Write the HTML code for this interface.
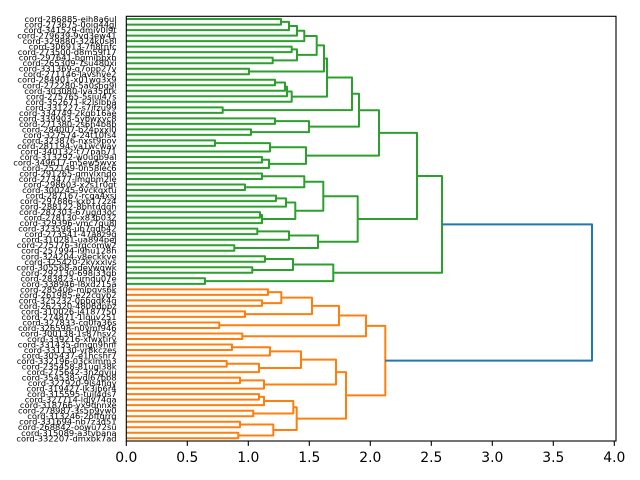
<!DOCTYPE html>
<html>
<head>
<meta charset="utf-8">
<style>
html,body{margin:0;padding:0;background:#fff;}
svg{display:block;}
.lb{font-family:"DejaVu Sans","Liberation Sans",sans-serif;font-size:8.33px;fill:#000;}
.tk{font-family:"DejaVu Sans","Liberation Sans",sans-serif;font-size:13.9px;fill:#000;}
</style>
</head>
<body>
<svg width="640" height="480" viewBox="0 0 640 480" xmlns="http://www.w3.org/2000/svg">
<rect x="0" y="0" width="640" height="480" fill="#fff"/>
<g fill="none" stroke="#2ca02c" stroke-width="2" stroke-linejoin="round">
<path d="M126.3 19.06 H281 V24.58 H126.3"/>
<path d="M281 21.82 H289 V30.09 H126.3"/>
<path d="M289 25.96 H297 V35.61 H126.3"/>
<path d="M297 30.78 H304.3 V41.12 H126.3"/>
<path d="M126.3 46.64 H291.7 V52.16 H126.3"/>
<path d="M126.3 57.67 H272.7 V63.19 H126.3"/>
<path d="M291.7 49.40 H297 V60.43 H272.7"/>
<path d="M304.3 35.95 H316.7 V54.92 H297"/>
<path d="M126.3 68.70 H249 V74.22 H126.3"/>
<path d="M316.7 45.43 H324 V71.46 H249"/>
<path d="M126.3 79.74 H275 V85.25 H126.3"/>
<path d="M275 82.50 H285 V90.77 H126.3"/>
<path d="M285 86.63 H287 V96.28 H126.3"/>
<path d="M287 91.46 H291.7 V101.80 H126.3"/>
<path d="M324 58.45 H327 V96.63 H291.7"/>
<path d="M126.3 107.32 H222.7 V112.83 H126.3"/>
<path d="M327 77.54 H352 V110.07 H222.7"/>
<path d="M126.3 118.35 H275 V123.86 H126.3"/>
<path d="M126.3 129.38 H251 V134.90 H126.3"/>
<path d="M275 121.11 H309 V132.14 H251"/>
<path d="M352 93.81 H359 V126.62 H309"/>
<path d="M126.3 140.41 H215 V145.93 H126.3"/>
<path d="M215 143.17 H270 V151.44 H126.3"/>
<path d="M126.3 156.96 H262 V162.48 H126.3"/>
<path d="M262 159.72 H269 V167.99 H126.3"/>
<path d="M270 147.31 H306 V163.85 H269"/>
<path d="M359 110.22 H379 V155.58 H306"/>
<path d="M126.3 173.51 H262 V179.02 H126.3"/>
<path d="M126.3 184.54 H245 V190.06 H126.3"/>
<path d="M262 176.27 H304.3 V187.30 H245"/>
<path d="M126.3 195.57 H276 V201.09 H126.3"/>
<path d="M276 198.33 H286 V206.60 H126.3"/>
<path d="M126.3 212.12 H260 V217.64 H126.3"/>
<path d="M260 214.88 H262 V223.15 H126.3"/>
<path d="M286 202.47 H295.3 V219.01 H262"/>
<path d="M304.3 181.78 H323.3 V210.74 H295.3"/>
<path d="M126.3 228.67 H257.3 V234.18 H126.3"/>
<path d="M257.3 231.42 H289 V239.70 H126.3"/>
<path d="M126.3 245.22 H234.3 V250.73 H126.3"/>
<path d="M289 235.56 H318 V247.97 H234.3"/>
<path d="M323.3 196.26 H357.7 V241.77 H318"/>
<path d="M379 132.90 H417 V219.01 H357.7"/>
<path d="M126.3 256.25 H265 V261.76 H126.3"/>
<path d="M126.3 267.28 H252.3 V272.80 H126.3"/>
<path d="M265 259.0 H293 V270.04 H252.3"/>
<path d="M126.3 278.31 H205 V283.83 H126.3"/>
<path d="M293 264.52 H333.3 V281.07 H205"/>
<path d="M417 175.96 H442 V272.80 H333.3"/>
</g>
<g fill="none" stroke="#ff7f0e" stroke-width="2" stroke-linejoin="round">
<path d="M126.3 289.34 H268 V294.86 H126.3"/>
<path d="M126.3 300.38 H262 V305.89 H126.3"/>
<path d="M268 292.10 H281.3 V303.14 H262"/>
<path d="M126.3 311.41 H245 V316.92 H126.3"/>
<path d="M281.3 297.62 H312 V314.17 H245"/>
<path d="M126.3 322.44 H219.3 V327.96 H126.3"/>
<path d="M312 305.89 H339 V325.20 H219.3"/>
<path d="M126.3 333.47 H242.3 V338.99 H126.3"/>
<path d="M339 315.55 H366 V336.23 H242.3"/>
<path d="M126.3 344.50 H232 V350.02 H126.3"/>
<path d="M232 347.26 H270 V355.54 H126.3"/>
<path d="M126.3 361.05 H226.7 V366.57 H126.3"/>
<path d="M226.7 363.81 H259 V372.08 H126.3"/>
<path d="M270 351.40 H301 V367.95 H259"/>
<path d="M126.3 377.60 H240 V383.12 H126.3"/>
<path d="M240 380.36 H264 V388.63 H126.3"/>
<path d="M301 359.67 H336 V384.49 H264"/>
<path d="M126.3 394.15 H259 V399.66 H126.3"/>
<path d="M259 396.91 H264 V405.18 H126.3"/>
<path d="M126.3 410.70 H253.3 V416.21 H126.3"/>
<path d="M264 401.04 H293.3 V413.45 H253.3"/>
<path d="M126.3 421.73 H240 V427.24 H126.3"/>
<path d="M126.3 432.76 H238.3 V438.28 H126.3"/>
<path d="M240 424.49 H273.3 V435.52 H238.3"/>
<path d="M293.3 407.25 H296.7 V430.0 H273.3"/>
<path d="M336 372.08 H346 V418.63 H296.7"/>
<path d="M366 325.89 H385.3 V395.35 H346"/>
</g>
<path d="M442 224.38 H592 V360.62 H385.3" fill="none" stroke="#1f77b4" stroke-width="2" stroke-linejoin="round"/>
<rect x="126.3" y="16.3" width="489.7" height="424.7" fill="none" stroke="#000" stroke-width="1.1"/>
<g stroke="#000" stroke-width="1.1">
<line x1="126.3" y1="441" x2="126.3" y2="445.9"/>
<line x1="187.3" y1="441" x2="187.3" y2="445.9"/>
<line x1="248.3" y1="441" x2="248.3" y2="445.9"/>
<line x1="309.3" y1="441" x2="309.3" y2="445.9"/>
<line x1="370.3" y1="441" x2="370.3" y2="445.9"/>
<line x1="431.3" y1="441" x2="431.3" y2="445.9"/>
<line x1="492.3" y1="441" x2="492.3" y2="445.9"/>
<line x1="553.3" y1="441" x2="553.3" y2="445.9"/>
<line x1="614.3" y1="441" x2="614.3" y2="445.9"/>
</g>
<g class="tk" text-anchor="middle">
<text x="126.3" y="462">0.0</text>
<text x="187.3" y="462">0.5</text>
<text x="248.3" y="462">1.0</text>
<text x="309.3" y="462">1.5</text>
<text x="370.3" y="462">2.0</text>
<text x="431.3" y="462">2.5</text>
<text x="492.3" y="462">3.0</text>
<text x="553.3" y="462">3.5</text>
<text x="614.3" y="462">4.0</text>
</g>
<g class="lb" text-anchor="end">
<text x="116.6" y="22.06">cord-286885-eih8a6ul</text>
<text x="116.6" y="27.58">cord-273675-0oiq44gl</text>
<text x="116.6" y="33.09">cord-341529-dmiv0l9t</text>
<text x="116.6" y="38.61">cord-279639-9vd3ew41</text>
<text x="116.6" y="44.12">cord-329880-324k0s8l</text>
<text x="116.6" y="49.64">cord-306913-7fi8tnfc</text>
<text x="116.6" y="55.16">cord-273500-d8m59f17</text>
<text x="116.6" y="60.67">cord-297641-bgmibbxb</text>
<text x="116.6" y="66.19">cord-265309-7su480xi</text>
<text x="116.6" y="71.70">cord-331369-q7opp27v</text>
<text x="116.6" y="77.22">cord-271146-lavshve2</text>
<text x="116.6" y="82.74">cord-284901-x01wg3x9</text>
<text x="116.6" y="88.25">cord-272280-5a0sng9l</text>
<text x="116.6" y="93.77">cord-303080-lva35ptk</text>
<text x="116.6" y="99.28">cord-275765-5siul47s</text>
<text x="116.6" y="104.80">cord-352671-k2lslbba</text>
<text x="116.6" y="110.32">cord-331227-s7ifzu99</text>
<text x="116.6" y="115.83">cord-334749-2kgb16ae</text>
<text x="116.6" y="121.35">cord-339903-5ybwxyc8</text>
<text x="116.6" y="126.86">cord-271380-2s6h4b8b</text>
<text x="116.6" y="132.38">cord-284007-b24pxxl0</text>
<text x="116.6" y="137.90">cord-327574-24t10fs4</text>
<text x="116.6" y="143.41">cord-323876-nxst9pov</text>
<text x="116.6" y="148.93">cord-281194-ya1wcwav</text>
<text x="116.6" y="154.44">cord-340132-t77pab71</text>
<text x="116.6" y="159.96">cord-313292-w0ugb9al</text>
<text x="116.6" y="165.48">cord-349617-m5ew5wvx</text>
<text x="116.6" y="170.99">cord-252149-0n58lec6</text>
<text x="116.6" y="176.51">cord-291265-qmvlxndo</text>
<text x="116.6" y="182.02">cord-273477-lmqbm2le</text>
<text x="116.6" y="187.54">cord-298603-x2s1r0gt</text>
<text x="116.6" y="193.06">cord-300245-9vckqxtu</text>
<text x="116.6" y="198.57">cord-287167-rcga4xsj</text>
<text x="116.6" y="204.09">cord-297886-kxb172z4</text>
<text x="116.6" y="209.60">cord-288122-8bhtddqh</text>
<text x="116.6" y="215.12">cord-287303-67ugd3oc</text>
<text x="116.6" y="220.64">cord-278130-x83b032</text>
<text x="116.6" y="226.15">cord-329396-vmc7qu8l</text>
<text x="116.6" y="231.67">cord-323598-ub7qdb42</text>
<text x="116.6" y="237.18">cord-273541-47a8z9g</text>
<text x="116.6" y="242.70">cord-310281-ua894pej</text>
<text x="116.6" y="248.22">cord-275776-3rqcomw2</text>
<text x="116.6" y="253.73">cord-257994-i9hu128h</text>
<text x="116.6" y="259.25">cord-324204-y8eckkve</text>
<text x="116.6" y="264.76">cord-325420-2kyxxlvs</text>
<text x="116.6" y="270.28">cord-305568-adevwqwk</text>
<text x="116.6" y="275.80">cord-292130-698j33qb</text>
<text x="116.6" y="281.31">cord-283823-urnqu07e</text>
<text x="116.6" y="286.83">cord-338946-l8xd215a</text>
<text x="116.6" y="292.34">cord-285406-mlpqvs6k</text>
<text x="116.6" y="297.86">cord-261985-e22cqyb2</text>
<text x="116.6" y="303.38">cord-325232-0pbqqk4g</text>
<text x="116.6" y="308.89">cord-262320-4806dpbz</text>
<text x="116.6" y="314.41">cord-310026-j4187750</text>
<text x="116.6" y="319.92">cord-274871-1lquv251</text>
<text x="116.6" y="325.44">cord-327833-cq0fa36s</text>
<text x="116.6" y="330.96">cord-326598-n0ymf946</text>
<text x="116.6" y="336.47">cord-300138-1s87hsv2</text>
<text x="116.6" y="341.99">cord-339216-xfwxtiry</text>
<text x="116.6" y="347.50">cord-331435-dmgn9hnf</text>
<text x="116.6" y="353.02">cord-331130-yr8kczes</text>
<text x="116.6" y="358.54">cord-305437-e1hcshr7</text>
<text x="116.6" y="364.05">cord-332196-03cklmm3</text>
<text x="116.6" y="369.57">cord-235458-81ugl38k</text>
<text x="116.6" y="375.08">cord-275642-3n2gvju</text>
<text x="116.6" y="380.60">cord-354538-vdl67bb8</text>
<text x="116.6" y="386.12">cord-327920-9ls4fiqy</text>
<text x="116.6" y="391.63">cord-319427-lk3jb6r4</text>
<text x="116.6" y="397.15">cord-315595-tujj4ds7</text>
<text x="116.6" y="402.66">cord-327714-ldly74qa</text>
<text x="116.6" y="408.18">cord-318766-yx9dnnxe</text>
<text x="116.6" y="413.70">cord-278987-3s5p9yw0</text>
<text x="116.6" y="419.21">cord-313246-2offqrrq</text>
<text x="116.6" y="424.73">cord-331694-nb7z3d51</text>
<text x="116.6" y="430.24">cord-268842-oowu72su</text>
<text x="116.6" y="435.76">cord-315089-a3tvbana</text>
<text x="116.6" y="441.28">cord-332207-dmxbk7ad</text>
</g>
</svg>
</body>
</html>
